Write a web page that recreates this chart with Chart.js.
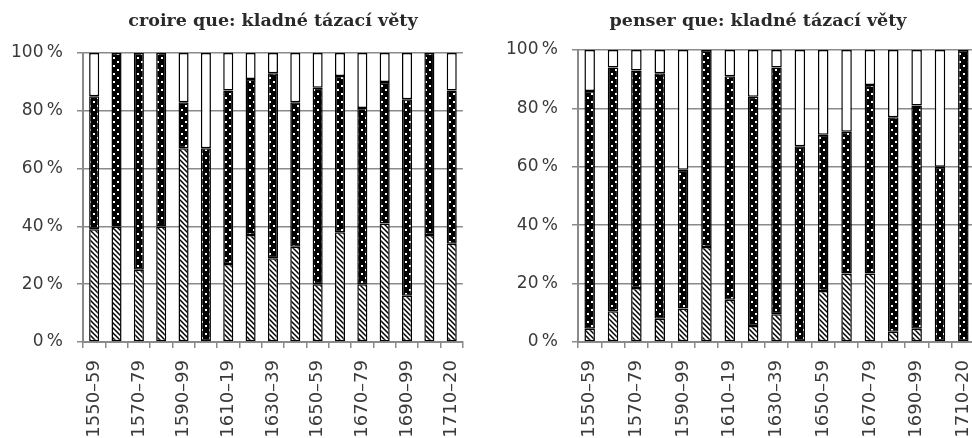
<!DOCTYPE html>
<html>
<head>
<meta charset="utf-8">
<script src="https://cdn.jsdelivr.net/npm/chart.js@4"></script>
<style>
html,body{margin:0;padding:0;background:#fff;}
body{width:972px;height:438px;overflow:hidden;position:relative;}
#c1{position:absolute;left:0;top:0;}
#c2{position:absolute;left:490px;top:0;}
</style>
</head>
<body>
<canvas id="c1" width="486" height="438"></canvas>
<canvas id="c2" width="536" height="438"></canvas>
<script>
const categories = ['1550–59','1560–69','1570–79','1580–89','1590–99','1600–09','1610–19','1620–29','1630–39','1640–49','1650–59','1660–69','1670–79','1680–89','1690–99','1700–09','1710–20'];
const yTicks = [0,20,40,60,80,100];

const titleLeft = 'croire que: kladné tázací věty';
const leftBottom = [39, 40, 25, 40, 67, 0, 27, 37, 29, 33, 20, 38, 20, 41, 16, 37, 34];
const leftMiddle = [46, 60, 75, 60, 16, 67, 60, 54, 64, 50, 68, 54, 61, 49, 68, 63, 53];
const leftTop    = [15, 0, 0, 0, 17, 33, 13, 9, 7, 17, 12, 8, 19, 10, 16, 0, 13];

const titleRight = 'penser que: kladné tázací věty';
const rightBottom = [4.5, 10.5, 18.5, 8, 11.5, 32.5, 14.5, 5.5, 9.5, 0, 17.5, 23.5, 23.5, 3.5, 4.5, 0, 0];
const rightMiddle = [81.5, 83.5, 74.5, 84, 47.5, 67.5, 76.5, 78.5, 84.5, 67, 53.5, 48.5, 64.5, 73.5, 76.5, 60, 100];
const rightTop    = [14, 6, 7, 8, 41, 0, 9, 16, 6, 33, 29, 28, 12, 23, 19, 40, 0];

function hatchPattern(){
  const c=document.createElement('canvas'); c.width=5; c.height=5;
  const x=c.getContext('2d');
  x.fillStyle='#fff'; x.fillRect(0,0,5,5);
  x.strokeStyle='#000'; x.lineWidth=1.5;
  x.beginPath();
  x.moveTo(-1,-1); x.lineTo(6,6);
  x.moveTo(-1,4); x.lineTo(1,6);
  x.moveTo(4,-1); x.lineTo(6,1);
  x.stroke();
  return x.createPattern(c,'repeat');
}
function dotPattern(){
  const c=document.createElement('canvas'); c.width=8; c.height=8;
  const x=c.getContext('2d');
  x.fillStyle='#000'; x.fillRect(0,0,8,8);
  x.fillStyle='#fff';
  x.fillRect(1,1,2,2); x.fillRect(5,5,2,2);
  return x.createPattern(c,'repeat');
}
const HATCH = hatchPattern();
const DOTS = dotPattern();
const GRID = '#8a8a8a';
const TXT = '#3a3a3a';

function makeChart(id, title, bottom, middle, top, opts){
  const scales = {
    x:{
      stacked:true,
      afterFit:(s)=>{ s.height = 96; },
      grid:{display:true, drawOnChartArea:false, drawTicks:true, tickLength:6, offset:true, color:GRID, lineWidth:1.5},
      border:{display:true, color:GRID, width:2},
      ticks:{autoSkip:false, maxRotation:90, minRotation:90, padding:12, color:TXT,
        font:{family:'DejaVu Sans', size:18},
        callback:function(v,i){ return i%2===0 ? categories[i] : ''; }}
    },
    y:{
      stacked:true, min:0, max:100,
      afterFit:(s)=>{ s.width = opts.yWidth; },
      afterBuildTicks:(s)=>{ s.ticks = yTicks.map(v=>({value:v})); },
      grid:{color:GRID, lineWidth:1.5, tickLength:6, drawTicks:true},
      border:{display:true, color:GRID, width:2},
      ticks:{padding:14, color:TXT, font:{family:'DejaVu Sans', size:17},
        callback:(v)=> v + '\u2009%'}
    }
  };
  if (opts.rightSpacer) {
    scales.ySpacer = {
      position:'right', min:0, max:100,
      afterFit:(s)=>{ s.width = opts.rightSpacer; },
      grid:{display:false}, border:{display:false}, ticks:{display:false}
    };
  }
  return new Chart(document.getElementById(id), {
    type:'bar',
    data:{
      labels: categories,
      datasets:[
        {data:bottom, backgroundColor:HATCH, borderColor:'#000', borderWidth:1.5, borderSkipped:false},
        {data:middle, backgroundColor:DOTS, borderColor:'#000', borderWidth:1.5, borderSkipped:false},
        {data:top, backgroundColor:'#fff', borderColor:'#000', borderWidth:1.5, borderSkipped:false}
      ]
    },
    options:{
      responsive:false,
      animation:false,
      devicePixelRatio:1,
      datasets:{bar:{barPercentage:0.9, categoryPercentage:0.5}},
      layout:{padding:{left:0,right:opts.padRight,top:0,bottom:0}},
      plugins:{
        legend:{display:false},
        tooltip:{enabled:false},
        title:{display:true, text:title, fullSize:opts.fullSize, color:'#2a2a2a',
          font:{family:'DejaVu Serif', weight:'bold', size:17.5, lineHeight:1.2},
          padding:{top:11, bottom:opts.titleBottom}}
      },
      scales: scales
    }
  });
}

makeChart('c1', titleLeft, leftBottom, leftMiddle, leftTop, {padRight:14, yWidth:83, fullSize:false, titleBottom:21});
makeChart('c2', titleRight, rightBottom, rightMiddle, rightTop, {padRight:0, yWidth:88, fullSize:true, titleBottom:18, rightSpacer:51});
</script>
</body>
</html>
